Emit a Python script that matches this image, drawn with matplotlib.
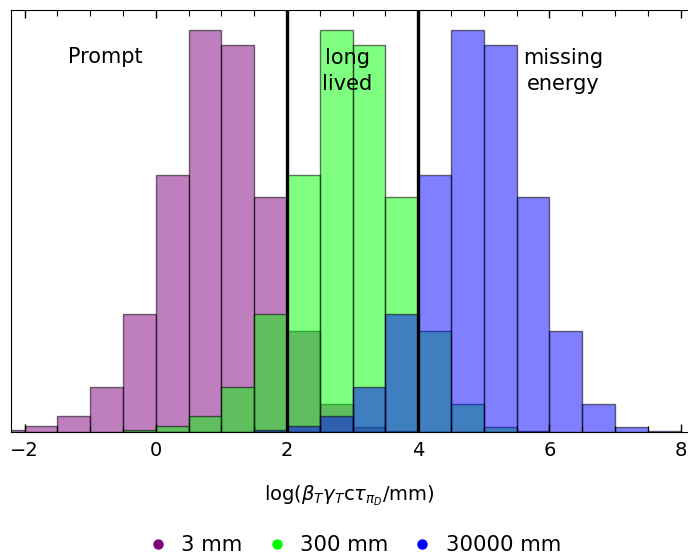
import matplotlib
matplotlib.use("Agg")
import matplotlib.pyplot as plt
import numpy as np
from matplotlib.lines import Line2D
from matplotlib.ticker import MultipleLocator

# histogram bin left edges (bin width 0.5) and heights (arbitrary units)
edges_3mm = [-2.5, -2.0, -1.5, -1.0, -0.5, 0.0, 0.5, 1.0, 1.5, 2.0, 2.5, 3.0, 3.5]
vals_3mm = [1.5, 5, 15, 44, 117, 256, 401, 386, 234, 100, 27, 4.5, 0.3]

edges_300mm = [-0.5, 0.0, 0.5, 1.0, 1.5, 2.0, 2.5, 3.0, 3.5, 4.0, 4.5, 5.0, 5.5]
vals_300mm = [1.5, 5, 15, 44, 117, 256, 401, 386, 234, 100, 27, 4.5, 0.3]

edges_30000mm = [1.5, 2.0, 2.5, 3.0, 3.5, 4.0, 4.5, 5.0, 5.5, 6.0, 6.5, 7.0, 7.5]
vals_30000mm = [1.5, 5, 15, 44, 117, 256, 401, 386, 234, 100, 27, 4.5, 0.3]

bin_width = 0.5
labels = ["3 mm", "300 mm", "30000 mm"]
colors = [(0.5, 0.0, 0.5), (0.0, 1.0, 0.0), (0.0, 0.0, 1.0)]
boundaries = [2, 4]
region_texts = [(-0.77, 374, "Prompt"), (2.92, 360, "long\nlived"), (6.21, 360, "missing\nenergy")]

fig = plt.figure(figsize=(6.88, 5.54), dpi=100)
ax = fig.add_axes([11.4 / 688, 1 - 431.5 / 554, 1 - 11.4 / 688, (431.5 - 9.7) / 554])

for edges, vals, c in zip([edges_3mm, edges_300mm, edges_30000mm],
                          [vals_3mm, vals_300mm, vals_30000mm], colors):
    ax.bar(edges, vals, width=bin_width, align="edge",
           color=(*c, 0.5), edgecolor=(0, 0, 0, 0.55), linewidth=1.0)

for b in boundaries:
    ax.axvline(b, color="black", lw=2.4, zorder=5)

for x, y, t in region_texts:
    ax.text(x, y, t, ha="center", va="center", fontsize=15, linespacing=1.4)

ax.set_xlim(-2.2, 8.114)
ax.set_ylim(0, 421)
ax.set_yticks([])
ax.xaxis.set_major_locator(MultipleLocator(2))
ax.xaxis.set_minor_locator(MultipleLocator(0.5))
ax.tick_params(axis="x", which="both", direction="in", top=True, bottom=True, labelsize=14, pad=7)
ax.tick_params(axis="x", which="major", length=6, width=1)
ax.tick_params(axis="x", which="minor", length=4, width=0.8)
ax.spines["right"].set_visible(False)
ax.set_xlabel(r"log($\beta_T\gamma_T\mathrm{c}\tau_{\pi_D}$/mm)", fontsize=14, labelpad=17)

handles = [Line2D([], [], marker="o", ls="", color=c, markersize=6.5) for c in colors]
fig.legend(handles, labels, loc="center", bbox_to_anchor=(354 / 688, 1 - 545 / 554),
           ncol=3, frameon=False, fontsize=15.3, handletextpad=0.6, columnspacing=1.1,
           handlelength=1.0)

fig.savefig("out.png", dpi=100)
